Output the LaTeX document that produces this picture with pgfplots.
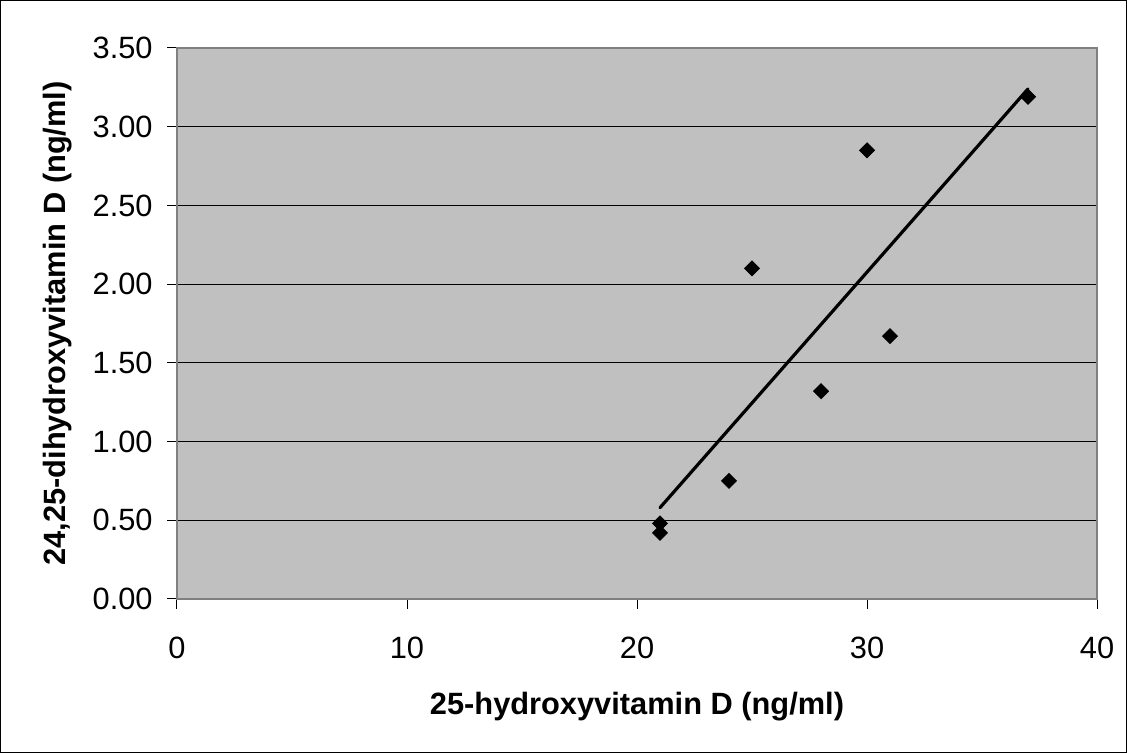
\documentclass[border=0pt]{standalone}
\usepackage{pgfplots}
\pgfplotsset{compat=1.18}
\usepackage{fontspec}
\setmainfont{Liberation Sans}
\definecolor{plotbg}{HTML}{C0C0C0}
\definecolor{frameg}{HTML}{808080}
\begin{document}
\begin{tikzpicture}
\useasboundingbox (-88.5pt,-77pt) rectangle (475pt,299.5pt);
\draw[black, line width=0.6pt] (-88.2pt,-76.7pt) rectangle (474.7pt,299.2pt);
\begin{axis}[
  scale only axis,
  width=460pt, height=275.5pt,
  xmin=0, xmax=40, ymin=0, ymax=3.5,
  xtick={0,10,...,40},
  ytick={0,0.5,...,3.5},
  axis background/.style={fill=plotbg},
  axis line style={frameg, line width=1pt},
  ymajorgrids, grid style={black, line width=0.5pt},
  tick align=outside,
  major tick length=5pt,
  tick style={black, line width=0.5pt},
  xtick pos=bottom, ytick pos=left,
  /pgf/number format/assume math mode=true,
  ticklabel style={font=\fontsize{15.4}{17}\selectfont, inner sep=0pt},
  xticklabel style={anchor=north, yshift=-14pt},
  yticklabel style={anchor=east, xshift=-7pt, /pgf/number format/fixed, /pgf/number format/fixed zerofill, /pgf/number format/precision=2},
  clip=false,
]
\addplot[black, only marks, mark=square*, mark size=2.65pt, mark options={rotate=45, fill=black}] coordinates {
(21,0.42) (21,0.48) (24,0.75) (25,2.10) (28,1.32) (30,2.85) (31,1.67) (37,3.19)
};
\addplot[black, line width=1.6pt, line cap=round] coordinates {(21,0.58) (37,3.24)};
\end{axis}
\node[anchor=north, inner sep=0pt, font=\bfseries\fontsize{15.4}{17}\selectfont] at (230pt,-46.5pt) {25-hydroxyvitamin D (ng/ml)};
\node[rotate=90, inner sep=0pt, font=\bfseries\fontsize{15.4}{17}\selectfont] at (-59.75pt,137.75pt) {24,25-dihydroxyvitamin D (ng/ml)};
\end{tikzpicture}
\end{document}
